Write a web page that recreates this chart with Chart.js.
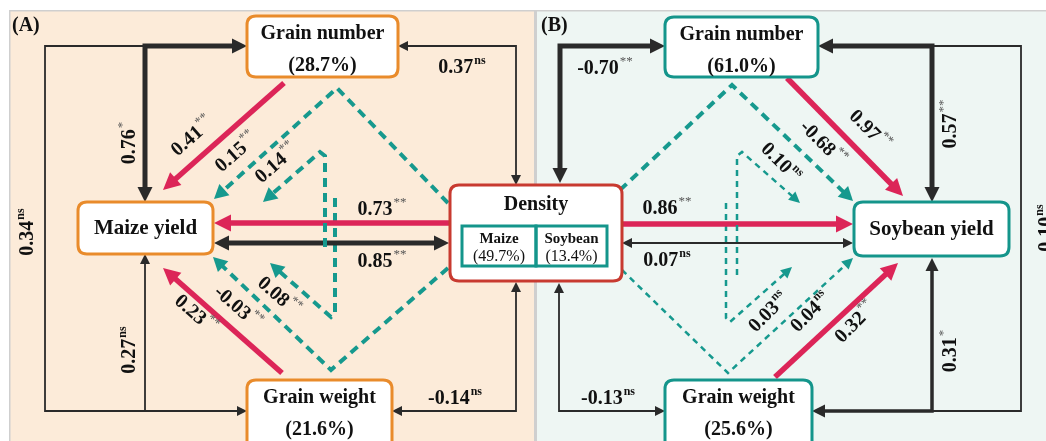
<!DOCTYPE html>
<html><head><meta charset="utf-8">
<script src="https://cdn.jsdelivr.net/npm/chart.js@4.4.1/dist/chart.umd.min.js"></script>
<style>html,body{margin:0;padding:0;background:#fff;overflow:hidden}canvas{display:block}</style>
</head><body><canvas id="c" width="1046" height="441"></canvas>
<script>
// ---------- values ----------
const panelLabels = ['(A)', '(B)'];
const nodeNames  = ['Grain number', 'Maize yield', 'Grain weight', 'Density', 'Grain number', 'Soybean yield', 'Grain weight'];
const nodeShares = ['(28.7%)', '', '(21.6%)', '', '(61.0%)', '', '(25.6%)'];
const densityCrops  = ['Maize', 'Soybean'];
const densityShares = ['(49.7%)', '(13.4%)'];
const coefA = [0.76, 0.34, 0.27, 0.37, -0.14, 0.41, 0.15, 0.14, 0.73, 0.85, 0.08, -0.03, 0.23];
const sigA  = ['*', 'ns', 'ns', 'ns', 'ns', '**', '**', '**', '**', '**', '**', '**', '**'];
const coefB = [-0.70, 0.57, 0.10, 0.31, -0.13, 0.97, -0.68, 0.10, 0.86, 0.07, 0.03, 0.04, 0.32];
const sigB  = ['**', '**', 'ns', '*', 'ns', '**', '**', 'ns', '**', 'ns', 'ns', 'ns', '**'];

// ---------- layout (diagram units) ----------
const nodeBoxes = [
  {x0:247, y0:16,  x1:398, y1:77,  c:'#e98b2b'},
  {x0:78,  y0:202, x1:213, y1:254, c:'#e98b2b'},
  {x0:247, y0:380, x1:392, y1:452, c:'#e98b2b'},
  {x0:450, y0:185, x1:622, y1:281, c:'#c83a30'},
  {x0:665, y0:17,  x1:818, y1:77,  c:'#14958b'},
  {x0:854, y0:202, x1:1009,y1:256, c:'#14958b'},
  {x0:665, y0:380, x1:812, y1:452, c:'#14958b'}
];
const styles = {
  thick:{color:'#2a2a2a', width:5,   dash:[],    al:15, aw:7.5},
  mid:  {color:'#2a2a2a', width:3.5, dash:[],    al:13, aw:6.5},
  thin: {color:'#2a2a2a', width:1.8, dash:[],    al:10, aw:5},
  red:  {color:'#dc2558', width:5.5, dash:[],    al:17, aw:8.5},
  dashT:{color:'#16998e', width:4,   dash:[9,6], al:14, aw:7.5},
  dashS:{color:'#16998e', width:2.5, dash:[6,5], al:11, aw:5.5}
};
const pathsA = [
  {pts:[[247,46],[145,46],[145,202]], s:'thick', a0:1, a1:1},
  {pts:[[145,46],[45,46],[45,411],[247,411]], s:'thin', a0:0, a1:1},
  {pts:[[145,411],[145,254]], s:'thin', a0:0, a1:1},
  {pts:[[398,46],[516,46],[516,185]], s:'thin', a0:1, a1:1},
  {pts:[[392,411],[516,411],[516,282]], s:'thin', a0:1, a1:1},
  {pts:[[284,83],[163,190]], s:'red', a0:0, a1:1},
  {pts:[[448,203],[337,88],[214,199]], s:'dashT', a0:0, a1:1},
  {pts:[[325,247],[325,156],[320,152],[263,202]], s:'dashT', a0:0, a1:1},
  {pts:[[450,223],[214,223]], s:'red', a0:0, a1:1},
  {pts:[[214,243],[449,243]], s:'thick', a0:1, a1:1},
  {pts:[[335,198],[335,313],[331,317],[270,263]], s:'dashT', a0:0, a1:1},
  {pts:[[448,268],[331,370],[213,257]], s:'dashT', a0:0, a1:1},
  {pts:[[282,373],[163,268]], s:'red', a0:0, a1:1}
];
const pathsB = [
  {pts:[[665,46],[560,46],[560,183]], s:'thick', a0:1, a1:1},
  {pts:[[818,46],[932,46],[932,202]], s:'thick', a0:1, a1:1},
  {pts:[[932,46],[1021,46],[1021,411],[932,411]], s:'thin', a0:0, a1:0},
  {pts:[[812,411],[932,411],[932,258]], s:'mid', a0:1, a1:1},
  {pts:[[665,411],[559,411],[559,283]], s:'thin', a0:1, a1:1},
  {pts:[[787,78],[903,196]], s:'red', a0:0, a1:1},
  {pts:[[620,190],[732,85],[853,201]], s:'dashT', a0:0, a1:1},
  {pts:[[737,275],[737,156],[742,152],[800,203]], s:'dashS', a0:0, a1:1},
  {pts:[[622,224],[853,224]], s:'red', a0:0, a1:1},
  {pts:[[853,243],[622,243]], s:'thin', a0:1, a1:1},
  {pts:[[726,203],[726,318],[730,322],[792,267]], s:'dashS', a0:0, a1:1},
  {pts:[[622,270],[728,373],[853,258]], s:'dashS', a0:0, a1:1},
  {pts:[[775,377],[898,263]], s:'red', a0:0, a1:1}
];
// label anchors [x, y, angle] matching coefA / coefB order
const labelPosA = [[129,143,-90],[27,232,-90],[129,350,-90],[462,67,0],[455,398,0],[192,136,-41],[236,152,-41],[276,163,-41],[382,209,0],[382,261,0],[279,296,41],[238,307,41],[196,314,41]];
const labelPosB = [[605,68,0],[950,124,-90],[1046,228,-90],[950,351,-90],[608,398,0],[870,130,45],[823,143,45],[781,162,45],[667,208,0],[667,260,0],[768,312,-45],[810,312,-45],[855,322,-45]];

const SERIF = '"Liberation Serif","DejaVu Serif",serif';
const allPaths = pathsA.concat(pathsB);

function shortened(p){
  const st = styles[p.s];
  const pts = p.pts.map(q => ({x:q[0], y:q[1]}));
  const cut = st.al - 3;
  function sh(i, j){
    const dx = pts[i].x - pts[j].x, dy = pts[i].y - pts[j].y;
    const L = Math.hypot(dx, dy);
    pts[i] = {x: pts[i].x - dx / L * cut, y: pts[i].y - dy / L * cut};
  }
  if (p.a1) sh(pts.length - 1, pts.length - 2);
  if (p.a0) sh(0, 1);
  return pts;
}

const datasets = allPaths.map(p => {
  const st = styles[p.s];
  return {
    type:'line', data: shortened(p), showLine:true, fill:false, tension:0,
    borderColor: st.color, borderWidth: st.width, borderDash: st.dash,
    borderCapStyle:'butt', borderJoinStyle:'miter', pointRadius:0, pointHoverRadius:0
  };
});

function drawArrow(ctx, xs, ys, tip, prev, st){
  const tx = xs.getPixelForValue(tip[0]), ty = ys.getPixelForValue(tip[1]);
  const px = xs.getPixelForValue(prev[0]), py = ys.getPixelForValue(prev[1]);
  const dx = tx - px, dy = ty - py, L = Math.hypot(dx, dy);
  const ux = dx / L, uy = dy / L;
  const bx = tx - ux * st.al, by = ty - uy * st.al;
  ctx.beginPath();
  ctx.moveTo(tx, ty);
  ctx.lineTo(bx - uy * st.aw, by + ux * st.aw);
  ctx.lineTo(bx + uy * st.aw, by - ux * st.aw);
  ctx.closePath();
  ctx.fillStyle = st.color;
  ctx.fill();
}

function roundRect(ctx, x0, y0, x1, y1, r){
  ctx.beginPath();
  ctx.moveTo(x0 + r, y0);
  ctx.lineTo(x1 - r, y0); ctx.quadraticCurveTo(x1, y0, x1, y0 + r);
  ctx.lineTo(x1, y1 - r); ctx.quadraticCurveTo(x1, y1, x1 - r, y1);
  ctx.lineTo(x0 + r, y1); ctx.quadraticCurveTo(x0, y1, x0, y1 - r);
  ctx.lineTo(x0, y0 + r); ctx.quadraticCurveTo(x0, y0, x0 + r, y0);
  ctx.closePath();
}

function drawCoef(ctx, x, y, ang, val, sig){
  const main = val.toFixed(2);
  ctx.save();
  ctx.translate(x, y);
  ctx.rotate(ang * Math.PI / 180);
  ctx.textBaseline = 'middle';
  ctx.textAlign = 'left';
  ctx.font = 'bold 20px ' + SERIF;
  const mw = ctx.measureText(main).width;
  const supFont = (sig === 'ns' ? 'bold 12px ' : '13px ') + SERIF;
  ctx.font = supFont;
  const sw = ctx.measureText(sig).width;
  const w = mw + sw + 1;
  ctx.font = 'bold 20px ' + SERIF;
  ctx.fillStyle = '#111';
  ctx.fillText(main, -w / 2, 1);
  ctx.font = supFont;
  ctx.fillStyle = sig === 'ns' ? '#111' : '#555';
  ctx.fillText(sig, -w / 2 + mw + 1, -6);
  ctx.restore();
}

const diagramPlugin = {
  id:'diagram',
  beforeDraw(chart){
    const ctx = chart.ctx, xs = chart.scales.x, ys = chart.scales.y;
    const X = v => xs.getPixelForValue(v), Y = v => ys.getPixelForValue(v);
    ctx.save();
    ctx.fillStyle = '#ffffff'; ctx.fillRect(0, 0, chart.width, chart.height);
    ctx.fillStyle = '#fcebd9'; ctx.fillRect(X(10), Y(11), X(534) - X(10), Y(441) - Y(11));
    ctx.fillStyle = '#eef6f3'; ctx.fillRect(X(537), Y(11), X(1046) - X(537), Y(441) - Y(11));
    ctx.fillStyle = '#cfcfcf';
    ctx.fillRect(X(534), Y(11), 3, Y(441) - Y(11));
    ctx.fillRect(X(9), Y(10), X(1046) - X(9), 1.5);
    ctx.fillRect(X(9), Y(10), 1.5, Y(441) - Y(10));
    ctx.restore();
  },
  afterDatasetsDraw(chart){
    const ctx = chart.ctx, xs = chart.scales.x, ys = chart.scales.y;
    const X = v => xs.getPixelForValue(v), Y = v => ys.getPixelForValue(v);
    ctx.save();
    allPaths.forEach(p => {
      const st = styles[p.s], n = p.pts.length;
      if (p.a1) drawArrow(ctx, xs, ys, p.pts[n - 1], p.pts[n - 2], st);
      if (p.a0) drawArrow(ctx, xs, ys, p.pts[0], p.pts[1], st);
    });
    nodeBoxes.forEach((b, i) => {
      roundRect(ctx, X(b.x0), Y(b.y0), X(b.x1), Y(b.y1), 9);
      ctx.fillStyle = '#ffffff'; ctx.fill();
      ctx.lineWidth = 3; ctx.strokeStyle = b.c; ctx.stroke();
      const cx = (X(b.x0) + X(b.x1)) / 2;
      ctx.fillStyle = '#111';
      ctx.textAlign = 'center'; ctx.textBaseline = 'middle';
      if (i === 3) {
        ctx.font = 'bold 20px ' + SERIF;
        ctx.fillText(nodeNames[i], cx, Y(205));
        const cells = [[462, 536], [536, 607]];
        cells.forEach((c, k) => {
          ctx.lineWidth = 3; ctx.strokeStyle = '#14958b';
          ctx.strokeRect(X(c[0]), Y(226), X(c[1]) - X(c[0]), Y(266) - Y(226));
          const mx = (X(c[0]) + X(c[1])) / 2;
          ctx.font = 'bold 15px ' + SERIF;
          ctx.fillText(densityCrops[k], mx, Y(239.5));
          ctx.font = '16px ' + SERIF;
          ctx.fillText(densityShares[k], mx, Y(257));
        });
      } else if (nodeShares[i]) {
        ctx.font = 'bold 20px ' + SERIF;
        ctx.fillText(nodeNames[i], cx, Y(b.y0 + 18));
        ctx.fillText(nodeShares[i], cx, Y(b.y0 + 50));
      } else {
        ctx.font = 'bold 21px ' + SERIF;
        ctx.fillText(nodeNames[i], cx, Y((b.y0 + b.y1) / 2 + 1));
      }
    });
    ctx.font = 'bold 20px ' + SERIF; ctx.textAlign = 'left'; ctx.textBaseline = 'middle';
    ctx.fillStyle = '#111';
    ctx.fillText(panelLabels[0], X(12), Y(26));
    ctx.fillText(panelLabels[1], X(541), Y(26));
    coefA.forEach((v, i) => { const L = labelPosA[i]; drawCoef(ctx, X(L[0]), Y(L[1]), L[2], v, sigA[i]); });
    coefB.forEach((v, i) => { const L = labelPosB[i]; drawCoef(ctx, X(L[0]), Y(L[1]), L[2], v, sigB[i]); });
    ctx.restore();
  }
};

new Chart(document.getElementById('c'), {
  type:'scatter',
  data:{ datasets },
  options:{
    responsive:false, animation:false, events:[],
    layout:{ padding:0 },
    plugins:{ legend:{display:false}, tooltip:{enabled:false} },
    scales:{
      x:{ type:'linear', min:0, max:1046, display:false },
      y:{ type:'linear', min:0, max:441, reverse:true, display:false }
    }
  },
  plugins:[diagramPlugin]
});
</script>
</body></html>
